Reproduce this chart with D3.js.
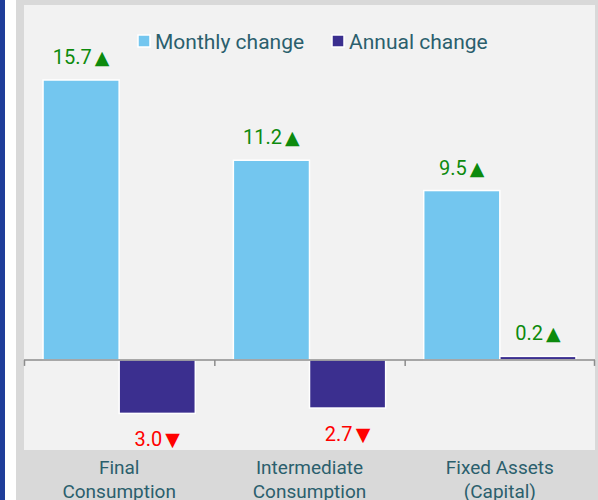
<!DOCTYPE html>
<html>
<head>
<meta charset="utf-8">
<script src="https://cdn.jsdelivr.net/npm/d3@7"></script>
<style>
  body { margin: 0; background: #fff; }
  svg { display: block; }
</style>
</head>
<body>
<div id="chart"></div>
<script>
// data
const categories = [["Final", "Consumption"], ["Intermediate", "Consumption"], ["Fixed Assets", "(Capital)"]];
const seriesNames = ["Monthly change", "Annual change"];
const monthly = [15.7, 11.2, 9.5];
const annual = [-3.0, -2.7, 0.2];

const colors = ["#73c6ef", "#3b2f8f"];
const textColor = "#2b5f6d";

const W = 598, H = 500;
const plot = { left: 24, right: 595, top: 5, bottom: 450 };

const svg = d3.select("#chart").append("svg")
  .attr("width", W).attr("height", H);

// frame
svg.append("rect").attr("x", 16).attr("y", 0).attr("width", W - 16).attr("height", H).attr("fill", "#d9d9d9");
svg.append("rect").attr("x", plot.left).attr("y", plot.top)
  .attr("width", plot.right - plot.left).attr("height", plot.bottom - plot.top).attr("fill", "#f2f2f2");
svg.append("rect").attr("x", 0).attr("y", 0).attr("width", 5).attr("height", H).attr("fill", "#1f3d9a");

const keys = categories.map((c, i) => i);

const x0 = d3.scaleBand().domain(keys).range([plot.left, plot.right]).paddingInner(0).paddingOuter(0);
const x1 = d3.scaleBand().domain([0, 1]).range([0, x0.bandwidth()]).paddingOuter(0.25).paddingInner(0);

const allVals = monthly.concat(annual);
const y = d3.scaleLinear().domain(d3.extent(allVals)).range([413.4, 80]);

const rows = keys.map(i => [monthly[i], annual[i]]);

// bars
const g = svg.append("g");
rows.forEach((vals, i) => {
  vals.forEach((v, s) => {
    const bx = x0(i) + x1(s);
    const by = y(Math.max(0, v));
    const bh = Math.abs(y(v) - y(0));
    g.append("rect")
      .attr("x", bx).attr("y", by)
      .attr("width", x1.bandwidth()).attr("height", bh)
      .attr("fill", colors[s])
      .attr("stroke", "#fff").attr("stroke-width", 1.5);

    // value label with arrow
    const up = v >= 0;
    const t = g.append("text")
      .attr("x", bx + x1.bandwidth() / 2)
      .attr("y", up ? by - 16 : y(v) + 33)
      .attr("text-anchor", "middle")
      .attr("font-family", "Roboto, sans-serif")
      .attr("font-size", 20)
      .attr("fill", up ? "#0d8a0d" : "#ff0000");
    t.append("tspan").text(Math.abs(v).toFixed(1));
    t.append("tspan").attr("dx", 3)
      .attr("font-family", "DejaVu Sans").attr("font-size", 19)
      .text(up ? "▲" : "▼");
  });
});

// zero axis with ticks at band boundaries
const y0 = y(0);
svg.append("line")
  .attr("x1", plot.left).attr("x2", plot.right)
  .attr("y1", y0).attr("y2", y0)
  .attr("stroke", "#8c8c8c").attr("stroke-width", 1.5);
const ticks = keys.map(i => x0(i)).concat([plot.right]);
svg.selectAll("line.tick").data(ticks).enter().append("line")
  .attr("class", "tick")
  .attr("x1", d => Math.min(d, plot.right - 1) + 0.5).attr("x2", d => Math.min(d, plot.right - 1) + 0.5)
  .attr("y1", y0).attr("y2", y0 + 6)
  .attr("stroke", "#8c8c8c").attr("stroke-width", 1.5);

// category labels
categories.forEach((lines, i) => {
  const t = svg.append("text")
    .attr("x", x0(i) + x0.bandwidth() / 2)
    .attr("y", 474)
    .attr("text-anchor", "middle")
    .attr("font-family", "Roboto, sans-serif")
    .attr("font-size", 19)
    .attr("fill", textColor);
  lines.forEach((ln, k) => {
    t.append("tspan").attr("x", x0(i) + x0.bandwidth() / 2).attr("dy", k ? 24 : 0).text(ln);
  });
});

// legend
const legendX = [138, 332];
seriesNames.forEach((name, s) => {
  const lg = svg.append("g").attr("transform", `translate(${legendX[s]},35)`);
  lg.append("rect").attr("width", 12).attr("height", 12)
    .attr("fill", colors[s]).attr("stroke", "#fff").attr("stroke-width", 1.5);
  lg.append("text").attr("x", 17).attr("y", 14)
    .attr("font-family", "Roboto, sans-serif").attr("font-size", 21)
    .attr("fill", textColor).text(name);
});
</script>
</body>
</html>
